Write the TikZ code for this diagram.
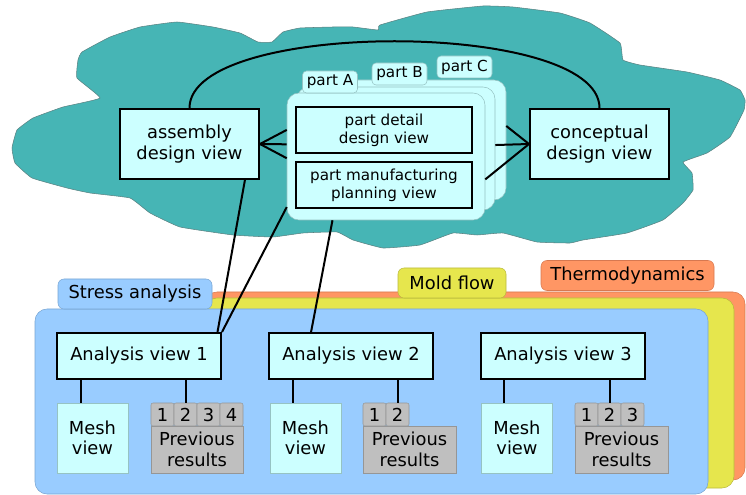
\documentclass[tikz,border=0pt]{standalone}
\usepackage{fontspec}
\setmainfont{DejaVu Sans}

\definecolor{cloudTeal}{RGB}{70,181,181}
\definecolor{cloudEdge}{RGB}{90,130,130}
\definecolor{paleCyan}{RGB}{204,255,255}
\definecolor{cardEdge}{RGB}{150,195,195}
\definecolor{stressBlue}{RGB}{153,204,255}
\definecolor{stressEdge}{RGB}{120,165,210}
\definecolor{moldYellow}{RGB}{230,230,77}
\definecolor{moldEdge}{RGB}{185,185,60}
\definecolor{thermoOrange}{RGB}{255,150,100}
\definecolor{thermoEdge}{RGB}{215,120,80}
\definecolor{resultGrey}{RGB}{191,191,191}
\definecolor{resultEdge}{RGB}{150,150,150}

\newcommand{\bigtxt}{\fontsize{13.4}{15.5}\selectfont}
\newcommand{\smalltxt}{\fontsize{11.4}{13.5}\selectfont}

\tikzset{every picture/.style={line width=0.75pt}}
\tikzset{
viewbox/.style={draw, line width=1.5pt, fill=paleCyan, inner sep=0pt, align=center, font=\bigtxt},
partbox/.style={draw, line width=1.5pt, fill=paleCyan, inner sep=0pt, align=center, font=\smalltxt, minimum width=132pt, minimum height=34.5pt},
card/.style={draw=cardEdge, fill=paleCyan, line width=0.4pt, rounded corners=9pt, inner sep=0pt},
parttab/.style={draw=cardEdge, fill=paleCyan, line width=0.4pt, rounded corners=3pt, inner sep=0pt, minimum width=41.25pt, minimum height=16.5pt, font=\smalltxt},
paneltab/.style={line width=0.4pt, rounded corners=4.5pt, inner sep=0pt, minimum height=22.5pt, font=\bigtxt},
analysisbox/.style={viewbox, minimum width=123pt, minimum height=34.5pt},
meshbox/.style={draw=cardEdge, fill=paleCyan, line width=0.4pt, inner sep=0pt, align=center, font=\bigtxt, minimum width=53.25pt, minimum height=52.5pt},
numcell/.style={draw=resultEdge, fill=resultGrey, line width=0.4pt, rounded corners=1.5pt, inner sep=0pt, minimum size=17.25pt, font=\bigtxt},
prevbox/.style={draw=resultEdge, fill=resultGrey, line width=0.4pt, inner sep=0pt, align=center, font=\bigtxt, minimum height=35.25pt},
link/.style={line width=1.5pt}
}

\begin{document}
\begin{tikzpicture}[x=0.75pt,y=0.75pt,yscale=-1,xscale=1]
\useasboundingbox (0,0) rectangle (746,495);

%Cloud
\draw [draw=cloudEdge, fill=cloudTeal, line width=0.4pt] plot [smooth cycle, tension=0.2] coordinates {
(12,148) (17,130) (33,118) (63,107) (100,98) (77,78) (78,60) (82,52) (110,37) (140,27) (177,22)
(213,27) (240,33) (258,42) (272,42) (283,32) (300,28) (333,27) (353,27) (378,30) (380,25)
(427,12) (483,6) (513,7) (560,13) (590,23) (620,43) (623,60) (640,65) (687,72) (720,80)
(740,90) (745,100) (744,110) (730,137) (707,153) (683,162) (692,173) (693,190) (683,203)
(663,220) (627,233) (583,240) (570,243) (537,242) (503,233) (477,235) (453,233) (420,245)
(383,248) (353,240) (337,232) (303,233) (273,237) (233,235) (180,227) (150,213) (130,198)
(90,193) (67,188) (32,178) (15,163)};

%Part cards with tabs
\node [card, minimum width=149.25pt, minimum height=90pt] (cC) at (406.5,140) {};
\node [parttab] (tC) at (464.5,67) {part C};
\node [card, minimum width=148.5pt, minimum height=92.25pt] (cB) at (396,148.5) {};
\node [parttab] (tB) at (399.5,74) {part B};
\node [card, minimum width=148.5pt, minimum height=95.25pt] (cA) at (386,156.5) {};
\node [parttab] (tA) at (330,82) {part A};

% Text Node
\node [partbox] (detail) at (384,130) {part detail\\design view};
% Text Node
\node [partbox] (manuf) at (384,185) {part manufacturing\\planning view};

% Text Node
\node [viewbox, minimum width=104.25pt, minimum height=52.5pt] (asm) at (189.5,144) {assembly\\design view};
% Text Node
\node [viewbox, minimum width=104.25pt, minimum height=52.5pt] (con) at (599.5,144) {conceptual\\design view};

%Curve Lines
\draw [link] (asm.north) .. controls +(0,-89) and +(0,-89) .. (con.north);

%Straight Lines
\draw [link] (asm.east) -- (cA.165);
\draw [link] (asm.east) -- (cA.173);
\draw [link] (asm.east) -- (cA.181);
\draw [link] (con.west) -- (cC.8);
\draw [link] (con.west) -- (cB.2);
\draw [link] (con.west) -- (cA.-13);

%Analysis panels
\draw [draw=thermoEdge, fill=thermoOrange, line width=0.4pt, rounded corners=9pt] (205,292) rectangle (745,480);
\node [paneltab, draw=thermoEdge, fill=thermoOrange, minimum width=129.75pt] (thermo) at (627.5,275.5) {Thermodynamics};
\draw [draw=moldEdge, fill=moldYellow, line width=0.4pt, rounded corners=9pt] (205,298) rectangle (734,488);
\node [paneltab, draw=moldEdge, fill=moldYellow, minimum width=81pt] (mold) at (452,283) {Mold flow};
\draw [draw=stressEdge, fill=stressBlue, line width=0.4pt, rounded corners=9pt] (35,309) rectangle (708,494);
\node [paneltab, draw=stressEdge, fill=stressBlue, minimum width=115.5pt] (stress) at (135,294) {Stress analysis};

% Text Node
\node [analysisbox] (a1) at (139,356) {Analysis view 1};
\node [analysisbox] (a2) at (351,356) {Analysis view 2};
\node [analysisbox] (a3) at (563,356) {Analysis view 3};

% Text Node
\node [meshbox] (m1) at (92.5,438) {Mesh\\view};
\node [meshbox] (m2) at (305.5,438) {Mesh\\view};
\node [meshbox] (m3) at (517,438) {Mesh\\view};

%Previous results 1
\node [numcell] (n11) at (162.5,414.5) {1};
\node [numcell] (n12) at (185.5,414.5) {2};
\node [numcell] (n13) at (208.5,414.5) {3};
\node [numcell] (n14) at (231.5,414.5) {4};
\node [prevbox, minimum width=69pt] (p1) at (197,449.5) {Previous\\results};
%Previous results 2
\node [numcell] (n21) at (374.5,414.5) {1};
\node [numcell] (n22) at (397.5,414.5) {2};
\node [prevbox, minimum width=69.75pt] (p2) at (409.5,449.5) {Previous\\results};
%Previous results 3
\node [numcell] (n31) at (586.5,414.5) {1};
\node [numcell] (n32) at (609.5,414.5) {2};
\node [numcell] (n33) at (632.5,414.5) {3};
\node [prevbox, minimum width=69.75pt] (p3) at (621.5,449.5) {Previous\\results};

%Straight Lines
\draw [link] (asm.-33) -- (a1.17.5);
\draw [link] (cA.207) -- (a1.north east);
\draw [link] (cA.230) -- (a2.149);

\coordinate (m1t) at ([xshift=18pt]m1.north west);
\coordinate (m2t) at ([xshift=17.25pt]m2.north west);
\coordinate (m3t) at ([xshift=17.25pt]m3.north west);
\draw [link] (m1t |- a1.south) -- (m1t);
\draw [link] (n12.north |- a1.south) -- (n12.north);
\draw [link] (m2t |- a2.south) -- (m2t);
\draw [link] (n22.north |- a2.south) -- (n22.north);
\draw [link] (m3t |- a3.south) -- (m3t);
\draw [link] (n32.north |- a3.south) -- (n32.north);

\end{tikzpicture}
\end{document}
